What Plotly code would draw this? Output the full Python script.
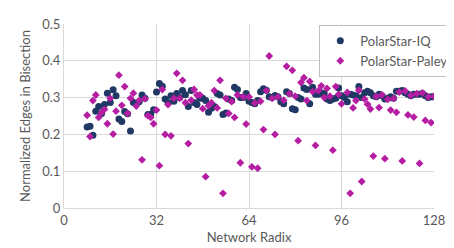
import plotly.graph_objects as go

iq_radix = list(range(8, 129))
iq_values = [
    0.220, 0.222, 0.198, 0.263, 0.276, 0.257, 0.281, 0.312, 0.287, 0.321,  # 8-17
    0.305, 0.242, 0.235, 0.262, 0.256, 0.209, 0.287, 0.285, 0.289, 0.307,  # 18-27
    0.298, 0.254, 0.254, 0.267, 0.315, 0.338, 0.331, 0.296, 0.287, 0.305,  # 28-37
    0.290, 0.311, 0.300, 0.319, 0.308, 0.276, 0.319, 0.287, 0.281, 0.298,  # 38-47
    0.298, 0.292, 0.260, 0.271, 0.276, 0.311, 0.307, 0.254, 0.258, 0.296,  # 48-57
    0.292, 0.328, 0.322, 0.300, 0.300, 0.311, 0.290, 0.287, 0.283, 0.292,  # 58-67
    0.316, 0.324, 0.320, 0.302, 0.300, 0.306, 0.302, 0.289, 0.283, 0.316,  # 68-77
    0.311, 0.270, 0.267, 0.300, 0.296, 0.326, 0.322, 0.283, 0.328, 0.309,  # 78-87
    0.309, 0.313, 0.311, 0.296, 0.292, 0.296, 0.298, 0.326, 0.305, 0.300,  # 88-97
    0.289, 0.309, 0.307, 0.305, 0.330, 0.300, 0.313, 0.317, 0.313, 0.305,  # 98-107
    0.302, 0.309, 0.305, 0.296, 0.298, 0.302, 0.298, 0.317, 0.317, 0.319,  # 108-117
    0.313, 0.309, 0.305, 0.309, 0.309, 0.309, 0.311, 0.305, 0.300, 0.302,  # 118-127
    0.302,                                                                  # 128
]

paley_radix = [
    8, 9, 10, 11, 12, 13, 14, 15, 16, 17, 18, 19, 20, 21, 22, 23, 24, 25, 26, 27,
    28, 29, 30, 31, 32, 33, 34, 35, 36, 37, 38, 39, 40, 41, 42, 43, 44, 45, 46, 47,
    48, 49, 50, 51, 52, 53, 54, 55, 56, 57, 58, 59, 60, 61, 62, 63, 64, 65, 66, 67,
    68, 69, 70, 71, 72, 73, 74, 76, 77, 78, 79, 80, 81, 82, 83, 84, 85, 86, 87, 88,
    89, 90, 91, 92, 93, 94, 95, 96, 98, 99, 100, 101, 102, 103, 104, 105, 106, 107,
    108, 109, 110, 111, 112, 113, 114, 115, 116, 117, 118, 119, 120, 121, 122, 123,
    124, 125, 126, 127, 128,
]
paley_values = [
    0.252, 0.194, 0.292, 0.307, 0.246, 0.259, 0.268, 0.229, 0.298, 0.201, 0.263, 0.361, 0.279, 0.330, 0.257, 0.298, 0.312, 0.277, 0.292, 0.131,
    0.297, 0.251, 0.246, 0.229, 0.266, 0.115, 0.322, 0.200, 0.281, 0.196, 0.298, 0.366, 0.298, 0.347, 0.286, 0.175, 0.293, 0.322, 0.307, 0.307,
    0.270, 0.085, 0.278, 0.286, 0.319, 0.272, 0.347, 0.040, 0.298, 0.257, 0.289, 0.246, 0.307, 0.123, 0.302, 0.228, 0.302, 0.112, 0.285, 0.108,
    0.290, 0.213, 0.319, 0.413, 0.298, 0.200, 0.302, 0.293, 0.385, 0.311, 0.374, 0.304, 0.183, 0.341, 0.354, 0.292, 0.344, 0.316, 0.170, 0.319,
    0.332, 0.300, 0.325, 0.304, 0.157, 0.330, 0.309, 0.283, 0.314, 0.040, 0.272, 0.292, 0.320, 0.072, 0.296, 0.282, 0.269, 0.141,
    0.303, 0.273, 0.307, 0.134, 0.295, 0.266, 0.298, 0.260, 0.315, 0.128, 0.318, 0.253, 0.306, 0.247, 0.311, 0.121,
    0.313, 0.238, 0.302, 0.232, 0.303,
]

x_ticks = [0, 32, 64, 96, 128]
y_ticks = [0, 0.1, 0.2, 0.3, 0.4, 0.5]
y_tick_labels = ["0", "0.1", "0.2", "0.3", "0.4", "0.5"]

FONT = "Lato, 'Open Sans', sans-serif"
GRID = "#d9d9d9"
TXT = "#595959"

fig = go.Figure()
fig.add_trace(go.Scatter(
    x=iq_radix, y=iq_values, mode="markers", name="PolarStar-IQ",
    marker=dict(symbol="circle", size=7, color="#1f3864"),
))
fig.add_trace(go.Scatter(
    x=paley_radix, y=paley_values, mode="markers", name="PolarStar-Paley",
    marker=dict(symbol="diamond", size=6, color="#b51ea3"),
))

fig.update_layout(
    width=454, height=248,
    margin=dict(l=56, r=10, t=8, b=48),
    paper_bgcolor="white", plot_bgcolor="white",
    font=dict(family=FONT, size=13, color=TXT),
    showlegend=True,
    legend=dict(
        x=0.69, y=0.995, xanchor="left", yanchor="top",
        bgcolor="white", bordercolor="#bfbfbf", borderwidth=1,
        font=dict(size=13, color=TXT),
        itemwidth=30, tracegroupgap=0,
    ),
    xaxis=dict(
        range=[0, 128], tickvals=x_ticks, ticktext=[str(v) for v in x_ticks],
        showgrid=True, gridcolor=GRID, gridwidth=1,
        showline=True, linecolor=GRID, linewidth=1, mirror=False,
        zeroline=False, ticks="", ticklen=0, ticklabeloverflow="allow",
        title=dict(text="Network Radix", font=dict(size=13, color=TXT), standoff=6),
        tickfont=dict(size=13, color=TXT),
    ),
    yaxis=dict(
        range=[0, 0.5], tickvals=y_ticks, ticktext=y_tick_labels,
        showgrid=True, gridcolor=GRID, gridwidth=1,
        showline=True, linecolor=GRID, linewidth=1,
        zeroline=False, ticks="", ticklabeloverflow="allow",
        title=dict(text="Normalized Edges in Bisection", font=dict(size=13, color=TXT), standoff=8),
        tickfont=dict(size=13, color=TXT),
    ),
)

fig.write_html("out.html")
